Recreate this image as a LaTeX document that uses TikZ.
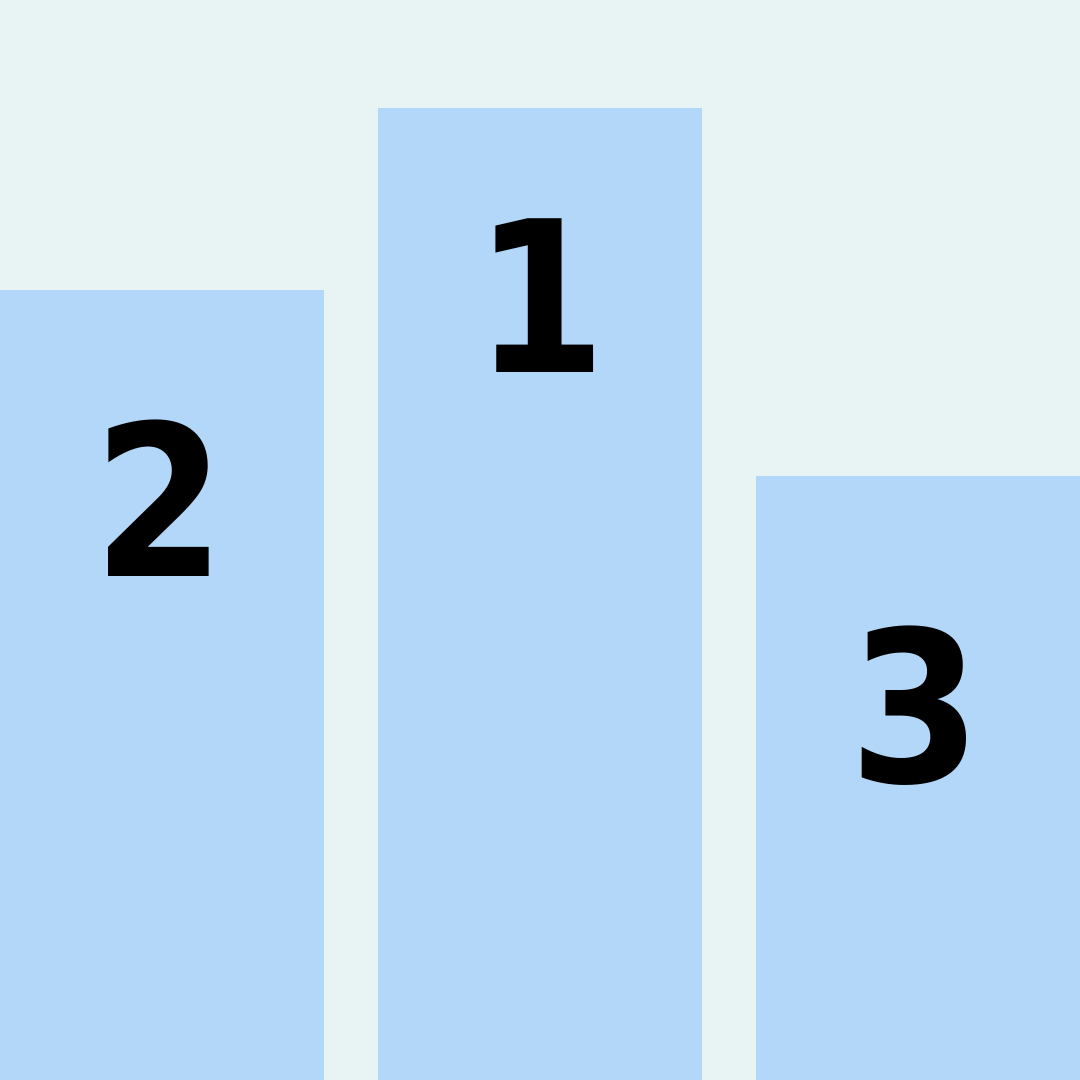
\documentclass[tikz,border=0pt]{standalone}
\usepackage{fontspec}
\setmainfont{DejaVu Sans}
\definecolor{bgcol}{HTML}{E8F4F4}
\definecolor{barcol}{HTML}{B3D7F9}
\newcommand{\rankdigit}[1]{\scalebox{0.9}[1]{#1}}
\begin{document}
\begin{tikzpicture}[x=0.01cm,y=-0.01cm,
  bar/.style={fill=barcol,draw=none},
  rank/.style={inner sep=0pt,font=\fontsize{60}{60}\selectfont\bfseries,text=black}]
\fill[bgcol] (0,0) rectangle (1080,1080);
\useasboundingbox (0,0) rectangle (1080,1080);
\path[bar] (0,290) rectangle (324,1080);
\path[bar] (378,108) rectangle (702,1080);
\path[bar] (756,476) rectangle (1080,1080);
\node[rank] (one) at (541,295.5) {\rankdigit{1}};
\node[rank] (two) at (160,498) {\rankdigit{2}};
\node[rank] (three) at (916,706) {\rankdigit{3}};
\end{tikzpicture}
\end{document}
